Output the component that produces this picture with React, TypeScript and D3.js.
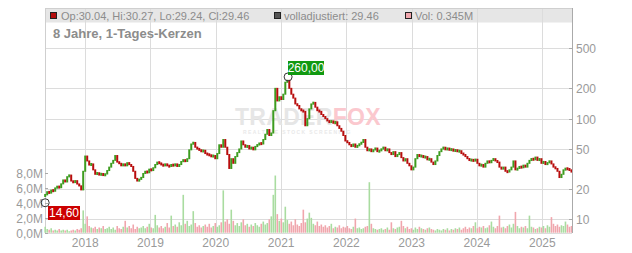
import React from "react";
import * as d3 from "d3";

const W = 632;
const H = 253;

// Daily-candle chart at ~2px steps (close values, EUR)
const closes: number[] = [
  17.5, 18.8, 18.2, 19.5, 19.0, 20.5, 21.2, 20.6, 22.5, 24.6,
  23.5, 26.5, 27.5, 24.0, 23.2, 24.2, 22.4, 21.5, 19.6, 30.0,
  42.5, 38.0, 34.6, 35.5, 31.0, 28.0, 29.0, 27.5, 28.5, 27.2,
  28.2, 30.5, 33.0, 36.0, 38.5, 43.0, 37.0, 36.0, 34.0, 35.5,
  34.0, 36.5, 35.0, 33.5, 30.0, 25.5, 24.0, 25.0, 26.0, 28.5,
  30.0, 29.0, 31.5, 30.5, 32.5, 35.0, 37.0, 36.0, 35.0, 34.0,
  35.5, 34.0, 33.5, 35.0, 34.0, 35.5, 33.5, 35.0, 37.5, 39.0,
  37.5, 40.0, 49.0, 56.0, 58.0, 52.0, 50.0, 49.0, 47.0, 48.5,
  45.0, 44.0, 43.5, 42.0, 43.0, 40.0, 45.0, 55.0, 52.0, 62.0,
  52.0, 44.0, 32.0, 40.0, 36.0, 42.0, 46.0, 50.0, 60.0, 55.0,
  52.0, 54.0, 50.0, 52.0, 49.0, 53.0, 55.0, 57.0, 56.0, 62.0,
  70.0, 78.0, 68.0, 72.0, 120.0, 200.0, 150.0, 165.0, 155.0, 175.0,
  230.0, 240.0, 200.0, 175.0, 160.0, 140.0, 135.0, 125.0, 120.0, 118.0,
  85.0, 100.0, 125.0, 140.0, 145.0, 130.0, 120.0, 118.0, 110.0, 105.0,
  100.0, 95.0, 92.0, 95.0, 90.0, 93.0, 85.0, 80.0, 75.0, 68.0,
  60.0, 58.0, 55.0, 53.0, 56.0, 52.0, 54.0, 56.0, 58.0, 62.0,
  52.0, 48.0, 50.0, 47.0, 49.0, 51.0, 47.0, 48.0, 50.0, 52.0,
  48.0, 50.0, 46.0, 44.0, 47.0, 42.0, 44.0, 46.0, 41.0, 38.0,
  40.0, 36.0, 34.0, 31.0, 33.0, 40.0, 44.0, 42.0, 43.0, 41.0,
  42.0, 39.0, 40.0, 37.0, 35.0, 38.0, 43.0, 47.0, 50.0, 52.0,
  49.0, 51.0, 48.5, 50.0, 47.5, 49.0, 47.0, 48.0, 45.0, 44.0,
  42.0, 40.0, 38.5, 39.0, 38.0, 39.5, 36.0, 34.0, 35.0, 33.0,
  36.0, 38.0, 36.5, 38.5, 40.0, 38.0, 37.0, 33.0, 31.5, 33.0,
  30.0, 29.5, 31.0, 33.0, 38.0, 31.0, 32.0, 33.5, 32.5, 34.5,
  33.0, 36.0, 38.5, 40.0, 39.0, 41.5, 38.5, 40.0, 36.0, 37.5,
  35.0, 36.5, 38.0, 35.5, 33.0, 32.0, 30.0, 26.0, 28.0, 31.0,
  32.0, 31.5, 31.0, 29.46,
];

// Volume in millions, one per candle
const volumes: number[] = [
  0.8, 0.5, 0.4, 0.6, 0.3, 0.4, 0.3, 0.5, 0.3, 0.4,
  0.3, 0.4, 0.2, 0.3, 0.4, 0.3, 0.5, 0.4, 0.6, 3.0,
  1.2, 2.2, 0.9, 0.7, 0.6, 0.8, 0.5, 0.7, 0.6, 0.9,
  0.5, 0.6, 0.8, 0.5, 0.7, 0.4, 0.9, 0.6, 0.5, 0.8,
  1.6, 0.7, 0.9, 0.6, 1.1, 0.5, 0.8, 0.6, 0.7, 0.9,
  0.6, 0.8, 1.2, 0.7, 0.6, 2.4, 1.0, 0.7, 0.9, 0.6,
  0.8, 1.3, 0.7, 2.3, 0.9, 1.1, 0.8, 1.4, 1.0, 5.1,
  1.2, 1.6, 0.9, 1.1, 2.9, 1.3, 0.8, 1.0, 0.7, 0.9,
  1.1, 0.8, 1.2, 0.7, 0.9, 1.3, 0.8, 1.0, 1.4, 5.7,
  1.5, 1.8, 1.2, 3.1, 1.6, 1.0, 1.3, 0.9, 1.4, 1.8,
  1.0, 1.2, 0.8, 1.1, 0.9, 1.3, 1.0, 0.8, 1.2, 1.5,
  1.1, 1.3, 1.8, 2.2, 5.1, 7.7, 2.5, 1.6, 1.9, 1.4,
  3.5, 1.7, 1.2, 1.5, 1.0, 1.8, 1.1, 0.9, 1.3, 3.1,
  1.4, 1.9, 2.7, 2.0, 1.2, 1.0, 1.5, 0.9, 1.1, 0.8,
  1.0, 0.7, 0.9, 1.2, 0.6, 0.8, 0.7, 1.0, 0.6, 0.8,
  0.7, 0.9, 0.6, 0.5, 0.8, 1.9, 0.6, 0.7, 0.5, 0.6,
  0.8, 0.9, 6.8, 1.2, 0.6, 0.5, 0.4, 0.5, 0.6, 0.4,
  0.5, 0.7, 0.4, 1.4, 0.6, 0.5, 0.7, 0.8, 1.6, 0.9,
  0.6, 0.8, 0.5, 0.6, 0.4, 0.7, 0.5, 0.8, 0.6, 0.5,
  0.4, 0.6, 0.7, 0.5, 0.4, 0.3, 0.5, 0.4, 0.3, 0.5,
  0.4, 0.6, 0.3, 0.5, 0.4, 0.6, 0.5, 0.7, 0.4, 0.6,
  0.8, 0.5, 0.7, 0.6, 0.9, 1.4, 0.6, 0.8, 0.7, 0.9,
  0.6, 0.7, 1.0, 1.5, 0.8, 0.6, 0.9, 2.3, 0.7, 0.8,
  0.6, 0.9, 1.1, 0.7, 1.2, 2.8, 0.9, 0.6, 0.8, 0.7,
  0.9, 0.6, 2.3, 0.8, 0.7, 0.5, 0.6, 0.8, 0.7, 0.9,
  0.6, 1.0, 0.8, 2.1, 1.2, 0.9, 1.1, 0.8, 1.0, 0.9,
  1.5, 1.1, 0.8, 0.9,
];

const firstDate = new Date(2017, 4, 22);
const lastDate = new Date(2025, 5, 13);
const domainStart = new Date(2017, 4, 21);
const domainEnd = new Date(2025, 5, 16);

const yearTicks: string[] = ["2018", "2019", "2020", "2021", "2022", "2023", "2024", "2025"];
const priceTicks: number[] = [10, 20, 50, 100, 200, 500];
const volumeTicks: number[] = [0, 2, 4, 6, 8];

const lowMark = { date: new Date(2017, 4, 22), value: 14.6, label: "14,60" };
const highMark = { date: new Date(2021, 1, 9), value: 260, label: "260,00" };

const legendText = "Op:30.04, Hi:30.27, Lo:29.24, Cl:29.46";
const legendAdj = "volladjustiert: 29.46";
const legendVol = "Vol: 0.345M";
const title = "8 Jahre, 1-Tages-Kerzen";

const L = 45, R = 572, T = 8, B = 233;
const GREEN = "#3d9c1f";
const RED = "#b80d0d";
const VGREEN = "#a9dca0";
const VRED = "#f0a6ad";
const GRID = "#dcdcdc";
const TXT = "#9a9a9a";

export default function App() {
  const x = d3.scaleTime().domain([domainStart, domainEnd]).range([L, R]);
  const y = d3.scaleLog().domain([10, 500]).range([219.3, 48.3]);
  const yv = d3.scaleLinear().domain([0, 8]).range([232.7, 173.3]);
  const n = closes.length;
  const span = lastDate.getTime() - firstDate.getTime();
  const dates = closes.map((_, i) => new Date(firstDate.getTime() + (span * i) / (n - 1)));
  const candles = closes.map((c, i) => {
    const o = i === 0 ? 17.0 : closes[i - 1];
    return { d: dates[i], o, c, v: volumes[i] };
  });
  const bw = 2;
  const font = "Arial, 'Liberation Sans', sans-serif";

  return (
    <svg width={W} height={H} style={{ position: "absolute", left: 0, top: 0 }} fontFamily={font}>
      <rect x={0} y={0} width={W} height={H} fill="#fff" />
      {/* header bar */}
      <rect x={L} y={T} width={R - L} height={14.5} fill="#e6e6e6" />
      {/* grid */}
      {yearTicks.map((t) => {
        const xx = Math.round(x(new Date(+t, 0, 1))) + 0.5;
        return <line key={t} x1={xx} x2={xx} y1={T} y2={B} stroke={GRID} strokeWidth={1} />;
      })}
      {priceTicks.map((p) => {
        const yy = Math.round(y(p)) + 0.5;
        return <line key={p} x1={L} x2={R} y1={yy} y2={yy} stroke={GRID} strokeWidth={1} />;
      })}
      <line x1={L} x2={R} y1={T + 0.5} y2={T + 0.5} stroke="#cfcfcf" />
      <line x1={L} x2={R} y1={B + 0.5} y2={B + 0.5} stroke={GRID} />
      <line x1={L + 0.5} x2={L + 0.5} y1={T} y2={B} stroke="#cfcfcf" />
      {/* watermark */}
      <text x={235} y={125} fontSize={23} fontWeight="bold" letterSpacing={0.3}>
        <tspan fill="#e6e6e6">TRADER</tspan><tspan fill="#fbc8ce">FOX</tspan>
      </text>
      <text x={243} y={134} fontSize={5} fontWeight="bold" fill="#e9e9e9" letterSpacing={1.4}>REALTIME STOCK SCREENING</text>
      {/* volume */}
      {candles.map((k, i) => {
        const top = yv(k.v);
        return (
          <rect key={"v" + i} x={x(k.d) - 0.8} y={top} width={1.6} height={yv(0) - top}
            fill={k.c >= k.o ? VGREEN : VRED} />
        );
      })}
      {/* candles */}
      {candles.map((k, i) => {
        const y1 = y(Math.max(k.o, k.c));
        const y2 = y(Math.min(k.o, k.c));
        const h = Math.max(3, y2 - y1 + 1);
        const mid = (y1 + y2) / 2;
        return (
          <rect key={"c" + i} x={x(k.d) - bw / 2} y={mid - h / 2} width={bw} height={h}
            fill={k.c >= k.o ? GREEN : RED} />
        );
      })}
      {/* right axis */}
      <line x1={R + 0.5} x2={R + 0.5} y1={T} y2={B} stroke="#aaaaaa" />
      {priceTicks.map((p) => {
        const yy = Math.round(y(p)) + 0.5;
        return (
          <g key={"pt" + p}>
            <line x1={R - 3} x2={R} y1={yy} y2={yy} stroke="#aaaaaa" />
            <text x={R + 4} y={yy + 4.5} fontSize={12} fill={TXT}>{p}</text>
          </g>
        );
      })}
      {/* left volume axis */}
      {volumeTicks.map((v) => {
        const yy = Math.round(yv(v)) + 0.5;
        return (
          <g key={"vt" + v}>
            <line x1={L} x2={L + 3} y1={yy} y2={yy} stroke="#aaaaaa" />
            <text x={L - 2} y={yy + 4.5} fontSize={12} fill={TXT} textAnchor="end">{v.toFixed(1).replace(".", ",") + "M"}</text>
          </g>
        );
      })}
      {/* year labels */}
      {yearTicks.map((t) => (
        <text key={"yl" + t} x={x(new Date(+t, 0, 1))} y={247} fontSize={12} fill={TXT} textAnchor="middle">{t}</text>
      ))}
      {/* markers */}
      <circle cx={x(lowMark.date)} cy={y(lowMark.value)} r={4} fill="none" stroke="#333" strokeWidth={1} />
      <rect x={48} y={206} width={32} height={14} fill="#cc0000" />
      <text x={64} y={217} fontSize={12} fill="#fff" textAnchor="middle">{lowMark.label}</text>
      <circle cx={x(highMark.date)} cy={y(highMark.value)} r={4} fill="none" stroke="#333" strokeWidth={1} />
      <rect x={288} y={61} width={36} height={14} fill="#119911" />
      <text x={306} y={72} fontSize={12} fill="#fff" textAnchor="middle">{highMark.label}</text>
      {/* legend */}
      <rect x={50.5} y={12.5} width={6} height={6} fill="#b40e0e" stroke="#222" />
      <text x={61} y={19.5} fontSize={11} fill="#8c8c8c">{legendText}</text>
      <rect x={274.5} y={12.5} width={6} height={6} fill="#555" stroke="#222" />
      <text x={284} y={19.5} fontSize={11} fill="#8c8c8c">{legendAdj}</text>
      <rect x={405.5} y={12.5} width={6} height={6} fill="#f0a6ad" stroke="#222" />
      <text x={415} y={19.5} fontSize={11} fill="#8c8c8c">{legendVol}</text>
      <text x={53} y={38} fontSize={13} fontWeight="bold" fill="#8c8c8c">{title}</text>
    </svg>
  );
}
